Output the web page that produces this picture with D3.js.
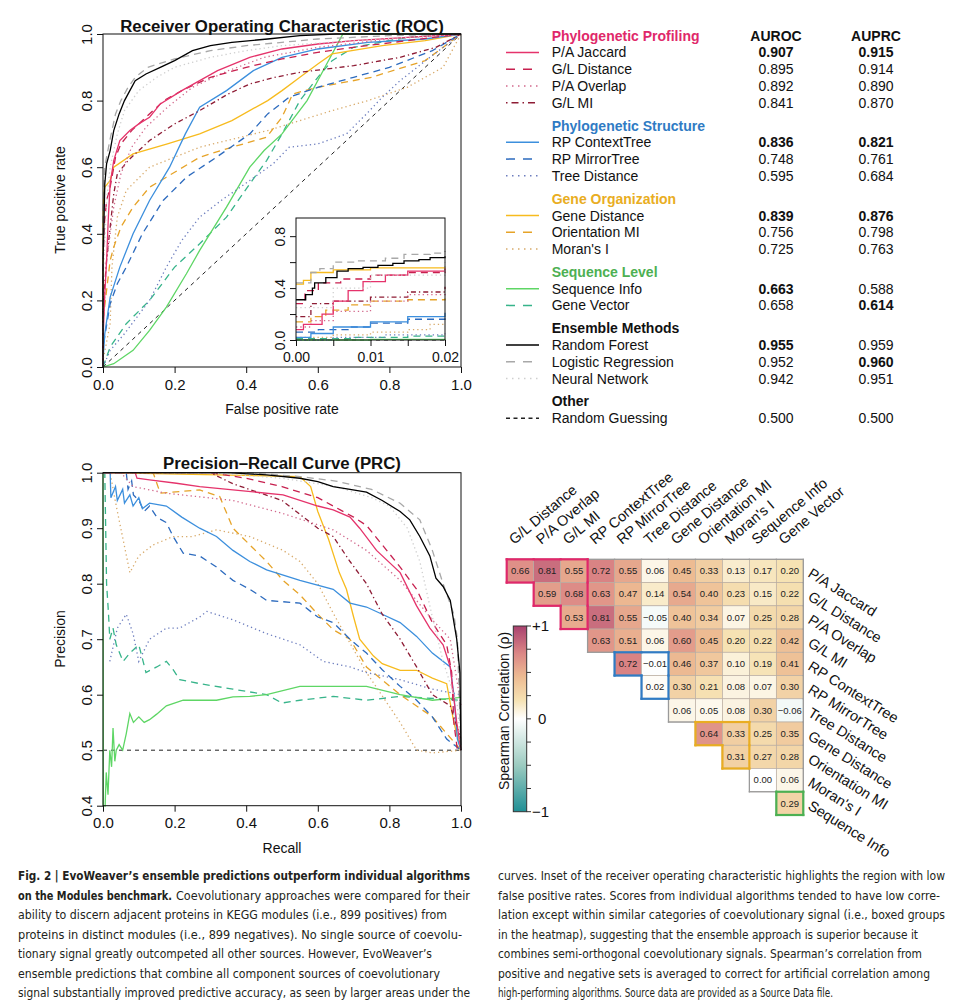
<!DOCTYPE html>
<html>
<head>
<meta charset="utf-8">
<script src="https://cdn.jsdelivr.net/npm/d3@7"></script>
<style>
  body { margin: 0; background: #fff; }
  svg text { font-family: "Liberation Sans", Arial, Helvetica, sans-serif; fill: #111; }
  .caption text { font-family: "Liberation Sans Narrow", "DejaVu Sans Condensed", "Liberation Sans", sans-serif; fill: #231f20; }
</style>
</head>
<body>
<svg width="958" height="1000"></svg>
<script>
var svg = d3.select("svg"),
  width = +svg.attr("width"),
  height = +svg.attr("height");

// ---------------- data ----------------
const methodNames = ["P/A Jaccard", "G/L Distance", "P/A Overlap", "G/L MI",
  "RP ContextTree", "RP MirrorTree", "Tree Distance",
  "Gene Distance", "Orientation MI", "Moran's I",
  "Sequence Info", "Gene Vector",
  "Random Forest", "Logistic Regression", "Neural Network",
  "Random Guessing"];
const groupNames = ["Phylogenetic Profiling", "Phylogenetic Structure", "Gene Organization",
  "Sequence Level", "Ensemble Methods", "Other"];
const methodGroup = [0, 0, 0, 0, 1, 1, 1, 2, 2, 2, 3, 3, 4, 4, 4, 5];
const aurocValues = [0.907, 0.895, 0.892, 0.841, 0.836, 0.748, 0.595, 0.839, 0.756, 0.725, 0.663, 0.658, 0.955, 0.952, 0.942, 0.500];
const auprcValues = [0.915, 0.914, 0.890, 0.870, 0.821, 0.761, 0.684, 0.876, 0.798, 0.763, 0.588, 0.614, 0.959, 0.960, 0.951, 0.500];

// ROC curves [FPR, TPR]
const rocPAJaccard = [[0,0],[0,0.08],[0.005,0.22],[0.01,0.32],[0.015,0.45],[0.02,0.55],[0.03,0.62],[0.047,0.68],[0.075,0.71],[0.1,0.73],[0.13,0.75],[0.16,0.79],[0.22,0.83],[0.27,0.86],[0.32,0.89],[0.41,0.93],[0.5,0.955],[0.6,0.97],[0.7,0.98],[0.85,0.99],[1,1]];
const rocGLDistance = [[0,0],[0,0.28],[0.003,0.42],[0.01,0.5],[0.02,0.54],[0.035,0.63],[0.05,0.67],[0.08,0.71],[0.12,0.75],[0.17,0.8],[0.22,0.83],[0.3,0.87],[0.4,0.9],[0.5,0.925],[0.6,0.945],[0.7,0.96],[0.85,0.98],[1,1]];
const rocPAOverlap = [[0,0],[0,0.12],[0.01,0.32],[0.02,0.4],[0.03,0.48],[0.05,0.58],[0.08,0.66],[0.12,0.72],[0.18,0.78],[0.25,0.84],[0.35,0.89],[0.45,0.93],[0.6,0.96],[0.8,0.985],[1,1]];
const rocGLMI = [[0,0],[0,0.18],[0.01,0.32],[0.02,0.42],[0.03,0.52],[0.04,0.58],[0.07,0.62],[0.1,0.65],[0.13,0.68],[0.2,0.73],[0.27,0.77],[0.35,0.82],[0.41,0.85],[0.48,0.87],[0.55,0.885],[0.7,0.905],[0.83,0.93],[0.93,0.96],[1,1]];
const rocRPContext = [[0,0],[0,0.02],[0.005,0.1],[0.02,0.21],[0.047,0.3],[0.084,0.4],[0.13,0.5],[0.186,0.6],[0.23,0.7],[0.27,0.78],[0.345,0.83],[0.42,0.89],[0.5,0.93],[0.6,0.955],[0.74,0.975],[0.9,0.985],[1,1]];
const rocRPMirror = [[0,0],[0,0.06],[0.02,0.19],[0.04,0.25],[0.065,0.3],[0.11,0.4],[0.168,0.5],[0.233,0.57],[0.317,0.63],[0.41,0.7],[0.46,0.76],[0.52,0.81],[0.6,0.84],[0.7,0.87],[0.8,0.9],[0.92,0.95],[1,1]];
const rocTreeDist = [[0,0],[0.02,0.05],[0.06,0.1],[0.13,0.2],[0.177,0.3],[0.22,0.38],[0.27,0.45],[0.33,0.5],[0.41,0.56],[0.475,0.61],[0.52,0.66],[0.6,0.67],[0.68,0.7],[0.736,0.76],[0.78,0.81],[0.83,0.86],[0.913,0.93],[1,1]];
const rocGeneDist = [[0,0],[0,0.43],[0.002,0.52],[0.005,0.54],[0.02,0.56],[0.03,0.6],[0.084,0.64],[0.18,0.67],[0.27,0.7],[0.36,0.74],[0.46,0.8],[0.5,0.83],[0.55,0.87],[0.6,0.91],[0.64,0.94],[0.78,0.965],[0.9,0.98],[1,1]];
const rocOrientMI = [[0,0],[0,0.14],[0.02,0.32],[0.03,0.36],[0.05,0.42],[0.084,0.48],[0.13,0.54],[0.177,0.57],[0.27,0.63],[0.36,0.66],[0.457,0.69],[0.5,0.75],[0.53,0.82],[0.6,0.84],[0.75,0.87],[0.9,0.92],[1,1]];
const rocMoransI = [[0,0],[0,0.02],[0.02,0.13],[0.025,0.3],[0.04,0.45],[0.065,0.53],[0.13,0.6],[0.27,0.66],[0.46,0.71],[0.64,0.77],[0.74,0.8],[0.85,0.84],[0.95,0.9],[1,1]];
const rocSeqInfo = [[0,0],[0.03,0.01],[0.084,0.05],[0.13,0.11],[0.177,0.18],[0.233,0.28],[0.27,0.35],[0.345,0.48],[0.41,0.6],[0.45,0.65],[0.5,0.7],[0.57,0.8],[0.62,0.9],[0.66,0.98],[0.67,1],[1,1]];
const rocGeneVector = [[0,0],[0.02,0.06],[0.065,0.13],[0.13,0.2],[0.2,0.3],[0.27,0.37],[0.345,0.45],[0.41,0.55],[0.457,0.62],[0.5,0.7],[0.55,0.8],[0.6,0.87],[0.64,0.92],[0.7,0.96],[0.85,0.99],[1,1]];
const rocRandForest = [[0,0],[0,0.31],[0.002,0.4],[0.005,0.55],[0.01,0.61],[0.02,0.65],[0.03,0.71],[0.045,0.76],[0.06,0.8],[0.075,0.83],[0.09,0.86],[0.12,0.88],[0.16,0.9],[0.2,0.92],[0.25,0.95],[0.3,0.965],[0.36,0.975],[0.46,0.985],[0.55,0.995],[0.65,1],[1,1]];
const rocLogReg = [[0,0],[0,0.44],[0.005,0.6],[0.01,0.63],[0.02,0.685],[0.035,0.76],[0.05,0.8],[0.07,0.84],[0.09,0.87],[0.125,0.9],[0.2,0.925],[0.3,0.95],[0.4,0.965],[0.5,0.975],[0.6,0.985],[0.8,0.995],[1,1]];
const rocNeuralNet = [[0,0],[0,0.25],[0.01,0.5],[0.02,0.6],[0.04,0.7],[0.06,0.77],[0.1,0.83],[0.15,0.87],[0.2,0.9],[0.3,0.93],[0.4,0.95],[0.5,0.965],[0.7,0.98],[1,1]];
const rocRandom = [[0,0],[1,1]];

// ROC inset, FPR 0 - 0.02 (step curves)
const insetPAJaccard = [[0,0.08],[0.001,0.12],[0.0035,0.2],[0.005,0.3],[0.007,0.38],[0.009,0.45],[0.012,0.5],[0.015,0.53],[0.02,0.55]];
const insetGLDistance = [[0,0.28],[0.0012,0.38],[0.003,0.44],[0.006,0.47],[0.01,0.5],[0.015,0.52],[0.02,0.53]];
const insetPAOverlap = [[0,0.1],[0.002,0.15],[0.005,0.22],[0.01,0.3],[0.015,0.35],[0.02,0.38]];
const insetGLMI = [[0,0.18],[0.002,0.28],[0.005,0.3],[0.01,0.33],[0.015,0.37],[0.02,0.41]];
const insetRPContext = [[0,0.02],[0.002,0.05],[0.005,0.1],[0.01,0.14],[0.015,0.18],[0.02,0.21]];
const insetRPMirror = [[0,0.06],[0.003,0.08],[0.007,0.1],[0.01,0.13],[0.015,0.16],[0.02,0.19]];
const insetTreeDist = [[0,0],[0.005,0.02],[0.012,0.04],[0.02,0.05]];
const insetGeneDist = [[0,0.43],[0.001,0.46],[0.002,0.52],[0.005,0.54],[0.01,0.555],[0.02,0.56]];
const insetOrientMI = [[0,0.14],[0.002,0.18],[0.004,0.23],[0.007,0.27],[0.01,0.3],[0.015,0.31],[0.02,0.32]];
const insetMoransI = [[0,0.02],[0.005,0.04],[0.01,0.06],[0.015,0.08],[0.018,0.12],[0.02,0.13]];
const insetSeqInfo = [[0,0],[0.01,0.005],[0.02,0.01]];
const insetGeneVector = [[0,0.01],[0.008,0.02],[0.015,0.03],[0.02,0.04]];
const insetRandForest = [[0,0.31],[0.0013,0.35],[0.0022,0.4],[0.0025,0.44],[0.004,0.48],[0.0055,0.53],[0.007,0.55],[0.009,0.56],[0.011,0.575],[0.013,0.59],[0.0145,0.61],[0.0165,0.62],[0.018,0.635],[0.02,0.645]];
const insetLogReg = [[0,0.44],[0.002,0.52],[0.0032,0.55],[0.005,0.6],[0.008,0.61],[0.012,0.63],[0.0145,0.66],[0.018,0.67],[0.02,0.685]];
const insetNeuralNet = [[0,0.25],[0.005,0.4],[0.01,0.5],[0.02,0.6]];
const insetRandom = [[0,0],[0.02,0.02]];

// PRC curves [recall, precision]
const prcPAJaccard = [[0,1],[0.09,1],[0.095,0.99],[0.13,0.987],[0.205,0.981],[0.27,0.975],[0.363,0.969],[0.503,0.96],[0.6,0.94],[0.643,0.933],[0.69,0.92],[0.717,0.9],[0.764,0.86],[0.83,0.82],[0.876,0.76],[0.913,0.72],[0.95,0.69],[0.97,0.65],[0.988,0.55],[1,0.5]];
const prcGLDistance = [[0,1],[0.3,1],[0.4,0.99],[0.5,0.975],[0.6,0.955],[0.643,0.94],[0.7,0.92],[0.736,0.905],[0.78,0.87],[0.83,0.83],[0.876,0.79],[0.92,0.73],[0.96,0.69],[0.974,0.64],[0.98,0.55],[0.99,0.5],[1,0.5]];
const prcPAOverlap = [[0,1],[0.05,1],[0.084,0.975],[0.177,0.963],[0.363,0.95],[0.5,0.927],[0.643,0.897],[0.736,0.86],[0.83,0.806],[0.92,0.735],[0.97,0.7],[1,0.58]];
const prcGLMI = [[0,1],[0.3,1],[0.363,0.98],[0.5,0.95],[0.6,0.9],[0.643,0.885],[0.69,0.84],[0.736,0.8],[0.78,0.745],[0.83,0.7],[0.876,0.65],[0.92,0.6],[0.97,0.58],[1,0.52]];
const prcRPContext = [[0,1],[0.02,1],[0.022,0.955],[0.035,0.975],[0.04,0.95],[0.055,0.97],[0.06,0.945],[0.075,0.96],[0.084,0.94],[0.1,0.955],[0.11,0.935],[0.13,0.945],[0.177,0.94],[0.22,0.92],[0.27,0.9],[0.317,0.885],[0.363,0.86],[0.41,0.84],[0.457,0.825],[0.55,0.806],[0.643,0.79],[0.69,0.765],[0.736,0.758],[0.78,0.745],[0.83,0.73],[0.876,0.705],[0.92,0.675],[0.97,0.65],[0.98,0.6],[0.99,0.52],[1,0.5]];
const prcRPMirror = [[0,1],[0.065,1],[0.07,0.97],[0.08,0.985],[0.085,0.96],[0.1,0.95],[0.115,0.93],[0.13,0.94],[0.15,0.92],[0.177,0.91],[0.196,0.885],[0.224,0.855],[0.27,0.85],[0.317,0.83],[0.363,0.806],[0.41,0.79],[0.457,0.77],[0.55,0.765],[0.6,0.74],[0.643,0.73],[0.69,0.7],[0.736,0.675],[0.78,0.645],[0.83,0.615],[0.876,0.59],[0.92,0.56],[0.96,0.52],[1,0.5]];
const prcTreeDist = [[0.019,0.66],[0.04,0.72],[0.065,0.745],[0.084,0.71],[0.1,0.66],[0.13,0.7],[0.177,0.72],[0.214,0.72],[0.27,0.74],[0.29,0.75],[0.363,0.735],[0.457,0.71],[0.55,0.69],[0.615,0.66],[0.69,0.65],[0.736,0.64],[0.83,0.627],[0.92,0.61],[1,0.6]];
const prcGeneDist = [[0,1],[0.55,0.993],[0.58,0.975],[0.6,0.93],[0.63,0.88],[0.66,0.82],[0.68,0.79],[0.7,0.74],[0.717,0.7],[0.755,0.67],[0.78,0.656],[0.83,0.644],[0.876,0.644],[0.92,0.63],[0.96,0.62],[0.98,0.55],[1,0.5]];
const prcOrientMI = [[0,1],[0.14,1],[0.16,0.963],[0.27,0.969],[0.326,0.957],[0.363,0.9],[0.41,0.87],[0.457,0.84],[0.503,0.806],[0.55,0.78],[0.6,0.745],[0.643,0.717],[0.69,0.7],[0.736,0.65],[0.83,0.6],[0.92,0.56],[1,0.5]];
const prcMoransI = [[0,1],[0.02,1],[0.037,0.94],[0.075,0.82],[0.1,0.85],[0.14,0.87],[0.196,0.885],[0.25,0.885],[0.317,0.897],[0.41,0.885],[0.503,0.86],[0.55,0.84],[0.6,0.8],[0.643,0.747],[0.736,0.64],[0.83,0.55],[0.876,0.5],[0.92,0.495],[1,0.5]];
const prcSeqInfo = [[0,1],[0.001,0.4],[0.005,0.38],[0.009,0.46],[0.014,0.42],[0.019,0.5],[0.024,0.47],[0.028,0.54],[0.033,0.48],[0.037,0.5],[0.045,0.51],[0.055,0.5],[0.065,0.53],[0.075,0.566],[0.085,0.55],[0.1,0.56],[0.115,0.55],[0.13,0.555],[0.15,0.565],[0.177,0.58],[0.224,0.59],[0.317,0.59],[0.363,0.596],[0.41,0.597],[0.457,0.6],[0.55,0.615],[0.643,0.615],[0.736,0.615],[0.83,0.6],[0.92,0.59],[1,0.595]];
const prcGeneVector = [[0,1],[0.005,1],[0.01,0.8],[0.015,0.75],[0.019,0.7],[0.028,0.72],[0.037,0.69],[0.056,0.66],[0.075,0.675],[0.1,0.69],[0.12,0.64],[0.15,0.65],[0.177,0.66],[0.196,0.645],[0.214,0.627],[0.27,0.62],[0.363,0.61],[0.457,0.6],[0.5,0.585],[0.55,0.59],[0.643,0.597],[0.736,0.59],[0.83,0.597],[1,0.59]];
const prcRandForest = [[0,1],[0.35,1],[0.457,0.996],[0.55,0.99],[0.6,0.984],[0.643,0.975],[0.69,0.97],[0.736,0.965],[0.78,0.95],[0.83,0.93],[0.857,0.915],[0.885,0.885],[0.913,0.85],[0.93,0.81],[0.95,0.795],[0.97,0.77],[0.988,0.7],[0.997,0.64],[1,0.5]];
const prcLogReg = [[0,1],[0.4,1],[0.55,0.993],[0.65,0.985],[0.75,0.97],[0.83,0.945],[0.885,0.915],[0.92,0.86],[0.95,0.8],[0.98,0.745],[0.99,0.7],[1,0.5]];
const prcNeuralNet = [[0,1],[0.3,1],[0.5,0.99],[0.65,0.975],[0.75,0.955],[0.8,0.94],[0.85,0.9],[0.885,0.84],[0.92,0.74],[0.95,0.66],[0.99,0.58],[1,0.5]];
const prcRandom = [[0,0.5],[1,0.5]];

// Spearman correlation heatmap (upper triangle, row i starts at column i)
const heatRows = methodNames.slice(0, 11);
const heatCols = methodNames.slice(1, 12);
const spearman = [
  [0.66, 0.81, 0.55, 0.72, 0.55, 0.06, 0.45, 0.33, 0.13, 0.17, 0.20],
  [0.59, 0.68, 0.63, 0.47, 0.14, 0.54, 0.40, 0.23, 0.15, 0.22],
  [0.53, 0.81, 0.55, -0.05, 0.40, 0.34, 0.07, 0.25, 0.28],
  [0.63, 0.51, 0.06, 0.60, 0.45, 0.20, 0.22, 0.42],
  [0.72, -0.01, 0.46, 0.37, 0.10, 0.19, 0.41],
  [0.02, 0.30, 0.21, 0.08, 0.07, 0.30],
  [0.06, 0.05, 0.08, 0.30, -0.06],
  [0.64, 0.33, 0.25, 0.35],
  [0.31, 0.27, 0.28],
  [0.00, 0.06],
  [0.29]
];

// caption pieces: [text, bold]
const captionLeft = [
  [["Fig. 2 | EvoWeaver\u2019s ensemble predictions outperform individual algorithms", true]],
  [["on the Modules benchmark.", true], ["Coevolutionary approaches were compared for their", false]],
  [["ability to discern adjacent proteins in KEGG modules (i.e., 899 positives) from", false]],
  [["proteins in distinct modules (i.e., 899 negatives). No single source of coevolu-", false]],
  [["tionary signal greatly outcompeted all other sources. However, EvoWeaver\u2019s", false]],
  [["ensemble predictions that combine all component sources of coevolutionary", false]],
  [["signal substantially improved predictive accuracy, as seen by larger areas under the", false]]
];
const captionRight = [
  [["curves. Inset of the receiver operating characteristic highlights the region with low", false]],
  [["false positive rates. Scores from individual algorithms tended to have low corre-", false]],
  [["lation except within similar categories of coevolutionary signal (i.e., boxed groups", false]],
  [["in the heatmap), suggesting that the ensemble approach is superior because it", false]],
  [["combines semi-orthogonal coevolutionary signals. Spearman\u2019s correlation from", false]],
  [["positive and negative sets is averaged to correct for artificial correlation among", false]],
  [["high-performing algorithms. Source data are provided as a Source Data file.", false]]
];

// ---------------- styles ----------------
const groupColors = ["#e0286a", "#2f7bc4", "#e9ad22", "#4db052", "#111", "#111"];
const methodColors = ["#e5336b", "#c7204f", "#d2688c", "#8e1c35",
  "#3c8fdd", "#2d6bbe", "#6c7dbe",
  "#f7bb1e", "#e6a328", "#d8aa6a",
  "#5ed665", "#37b48a",
  "#000000", "#a8a8a8", "#cfcfcf", "#222222"];
const dashStyles = { solid: null, dashed: "9,8", dotted: "1.5,4.5", dotdash: "1.5,4,7,4", short: "4,3.5" };
const methodDash = ["solid", "dashed", "dotted", "dotdash",
  "solid", "dashed", "dotted",
  "solid", "dashed", "dotted",
  "solid", "dashed",
  "solid", "dashed", "dotted", "short"];
const curveDash = { solid: null, dashed: "7,5", dotted: "1.3,3", dotdash: "1.3,3,5,3", short: "4,4" };

const rocData = [rocPAJaccard, rocGLDistance, rocPAOverlap, rocGLMI, rocRPContext, rocRPMirror, rocTreeDist,
  rocGeneDist, rocOrientMI, rocMoransI, rocSeqInfo, rocGeneVector, rocRandForest, rocLogReg, rocNeuralNet, rocRandom];
const insetData = [insetPAJaccard, insetGLDistance, insetPAOverlap, insetGLMI, insetRPContext, insetRPMirror, insetTreeDist,
  insetGeneDist, insetOrientMI, insetMoransI, insetSeqInfo, insetGeneVector, insetRandForest, insetLogReg, insetNeuralNet, insetRandom];
const prcData = [prcPAJaccard, prcGLDistance, prcPAOverlap, prcGLMI, prcRPContext, prcRPMirror, prcTreeDist,
  prcGeneDist, prcOrientMI, prcMoransI, prcSeqInfo, prcGeneVector, prcRandForest, prcLogReg, prcNeuralNet, prcRandom];

// drawing order: weakest groups first, ensembles on top
const drawOrder = [15, 11, 10, 9, 8, 7, 6, 5, 4, 3, 2, 1, 0, 14, 13, 12];

// ---------------- helpers ----------------
function drawCurves(g, data, x, y, stepped) {
  const line = d3.line().x(d => x(d[0])).y(d => y(d[1]));
  if (stepped) line.curve(d3.curveStepAfter);
  drawOrder.forEach(i => {
    g.append("path")
      .attr("d", line(data[i]))
      .attr("fill", "none")
      .attr("stroke", methodColors[i])
      .attr("stroke-width", i == 15 ? 1 : 1.3)
      .attr("stroke-dasharray", curveDash[methodDash[i]]);
  });
}

function rAxes(g, x, y, xTicks, yTicks, fmtX, fmtY, fs, labelledX, labelledY) {
  const [x0, x1] = x.range(), [y0, y1] = y.range();
  const xa = g.append("g").attr("transform", `translate(0,${y0})`)
    .call(d3.axisBottom(x).tickValues(xTicks).tickSize(6).tickPadding(6)
      .tickFormat(d => labelledX(d) ? fmtX(d) : ""));
  const ya = g.append("g").attr("transform", `translate(${x0},0)`)
    .call(d3.axisLeft(y).tickValues(yTicks).tickSize(6)
      .tickFormat(d => labelledY(d) ? fmtY(d) : ""));
  [xa, ya].forEach(a => {
    a.select(".domain").remove();
    a.selectAll("line").attr("stroke", "#111");
    a.selectAll("text").style("font-size", fs + "px")
      .style("font-family", '"Liberation Sans", Arial, sans-serif').attr("fill", "#111");
  });
  ya.selectAll("text")
    .attr("transform", "rotate(-90)")
    .attr("x", 0).attr("y", -11).attr("dy", 0)
    .attr("text-anchor", "middle");
  g.append("rect")
    .attr("x", x0).attr("y", y1)
    .attr("width", x1 - x0).attr("height", y0 - y1)
    .attr("fill", "none").attr("stroke", "#111").attr("stroke-width", 1);
}

let clipCount = 0;
function clipRect(x, y) {
  const id = "clip" + (clipCount++);
  const [x0, x1] = x.range(), [y0, y1] = y.range();
  svg.append("clipPath").attr("id", id).append("rect")
    .attr("x", x0 - 1).attr("y", y1 - 1).attr("width", x1 - x0 + 2).attr("height", y0 - y1 + 2);
  return "url(#" + id + ")";
}

const fmt1 = d3.format(".1f");
const fmt2 = d3.format(".2f");
const all = () => true;

// ---------------- ROC ----------------
const rocX = d3.scaleLinear().domain([0, 1]).range([103, 461]);
const rocY = d3.scaleLinear().domain([0, 1]).range([367, 34]);
const rocG = svg.append("g");
drawCurves(rocG.append("g").attr("clip-path", clipRect(rocX, rocY)), rocData, rocX, rocY, false);
rAxes(rocG, rocX, rocY, d3.range(0, 1.01, 0.2), d3.range(0, 1.01, 0.2), fmt1, fmt1, 15, all, all);

rocG.append("text").attr("x", 282).attr("y", 32).attr("text-anchor", "middle")
  .style("font-size", "16.8px").style("font-weight", "bold")
  .text("Receiver Operating Characteristic (ROC)");
rocG.append("text").attr("x", 282).attr("y", 414).attr("text-anchor", "middle")
  .style("font-size", "14px").text("False positive rate");
rocG.append("text").attr("transform", "translate(65,200) rotate(-90)").attr("text-anchor", "middle")
  .style("font-size", "14px").text("True positive rate");

// inset
const inX = d3.scaleLinear().domain([0, 0.02]).range([296, 445]);
const inY = d3.scaleLinear().domain([0, 0.94]).range([340, 218]);
const inG = svg.append("g");
inG.append("rect").attr("x", 296).attr("y", 218).attr("width", 149).attr("height", 122).attr("fill", "#fff");
drawCurves(inG.append("g").attr("clip-path", clipRect(inX, inY)), insetData, inX, inY, true);
rAxes(inG, inX, inY, [0, 0.005, 0.01, 0.015, 0.02], [0, 0.2, 0.4, 0.6, 0.8], fmt2, fmt1, 14,
  d => [0, 0.01, 0.02].some(v => Math.abs(v - d) < 1e-9),
  d => [0, 0.4, 0.8].some(v => Math.abs(v - d) < 1e-9));

// ---------------- PRC ----------------
const prcX = d3.scaleLinear().domain([0, 1]).range([103, 461]);
const prcY = d3.scaleLinear().domain([0.4, 1]).range([805.7, 472.7]);
const prcG = svg.append("g");
drawCurves(prcG.append("g").attr("clip-path", clipRect(prcX, prcY)), prcData, prcX, prcY, false);
rAxes(prcG, prcX, prcY, d3.range(0, 1.01, 0.2), [0.4, 0.5, 0.6, 0.7, 0.8, 0.9, 1.0], fmt1, fmt1, 15, all, all);

prcG.append("text").attr("x", 282).attr("y", 469).attr("text-anchor", "middle")
  .style("font-size", "16.8px").style("font-weight", "bold")
  .text("Precision\u2013Recall Curve (PRC)");
prcG.append("text").attr("x", 282).attr("y", 853).attr("text-anchor", "middle")
  .style("font-size", "14px").text("Recall");
prcG.append("text").attr("transform", "translate(65,639) rotate(-90)").attr("text-anchor", "middle")
  .style("font-size", "14px").text("Precision");

// ---------------- legend table ----------------
const leg = svg.append("g");
const nameX = 551.7, aurocX = 776, auprcX = 876;
let cy = 35.7;
groupNames.forEach((gname, gi) => {
  if (gi > 0) cy += 22.9;
  leg.append("text").attr("x", nameX).attr("y", cy + 5)
    .style("font-size", "14px").style("font-weight", "bold")
    .style("fill", groupColors[gi]).text(gname);
  if (gi == 0) {
    leg.append("text").attr("x", aurocX).attr("y", cy + 5).attr("text-anchor", "middle")
      .style("font-size", "14px").style("font-weight", "bold").text("AUROC");
    leg.append("text").attr("x", auprcX).attr("y", cy + 5).attr("text-anchor", "middle")
      .style("font-size", "14px").style("font-weight", "bold").text("AUPRC");
  }
  const members = d3.range(methodNames.length).filter(i => methodGroup[i] == gi);
  const bestRoc = d3.max(members, i => aurocValues[i]);
  const bestPrc = d3.max(members, i => auprcValues[i]);
  members.forEach(i => {
    cy += 16.75;
    leg.append("line").attr("x1", 506).attr("x2", 539).attr("y1", cy).attr("y2", cy)
      .attr("stroke", methodColors[i]).attr("stroke-width", 1.5)
      .attr("stroke-dasharray", dashStyles[methodDash[i]]);
    leg.append("text").attr("x", nameX).attr("y", cy + 5).style("font-size", "14px").text(methodNames[i]);
    const other = gi == 5;
    leg.append("text").attr("x", aurocX).attr("y", cy + 5).attr("text-anchor", "middle")
      .style("font-size", "14px")
      .style("font-weight", (!other && aurocValues[i] == bestRoc) ? "bold" : "normal")
      .text(aurocValues[i].toFixed(3));
    leg.append("text").attr("x", auprcX).attr("y", cy + 5).attr("text-anchor", "middle")
      .style("font-size", "14px")
      .style("font-weight", (!other && auprcValues[i] == bestPrc) ? "bold" : "normal")
      .text(auprcValues[i].toFixed(3));
  });
});

// ---------------- heatmap ----------------
const hx = d3.scaleBand().domain(heatCols).range([506.7, 803.3]);
const hy = d3.scaleBand().domain(heatRows).range([559.3, 815]);
const heatColor = d3.scaleLinear()
  .domain([-1, -0.5, 0, 0.2, 0.45, 0.7, 1])
  .range(["#1f8f95", "#9ccbc0", "#ffffff", "#f6e2b3", "#edbb92", "#dc8886", "#a9416f"]);

const cells = [];
spearman.forEach((row, r) => row.forEach((v, k) => {
  const c = r + k;
  cells.push({ r: r, c: c, v: v, group: methodGroup[r] == methodGroup[c + 1] ? methodGroup[r] : -1 });
}));

const hm = svg.append("g");
hm.selectAll("rect.cell").data(cells).enter().append("rect")
  .attr("class", "cell")
  .attr("x", d => hx(heatCols[d.c])).attr("y", d => hy(heatRows[d.r]))
  .attr("width", hx.bandwidth()).attr("height", hy.bandwidth())
  .attr("fill", d => heatColor(d.v))
  .attr("stroke", "#b9ada2").attr("stroke-width", 0.7);
hm.selectAll("text.val").data(cells).enter().append("text")
  .attr("x", d => hx(heatCols[d.c]) + hx.bandwidth() / 2)
  .attr("y", d => hy(heatRows[d.r]) + hy.bandwidth() / 2 + 3.3)
  .attr("text-anchor", "middle")
  .style("font-size", "9.5px").style("fill", "#222")
  .text(d => d.v < 0 ? "\u2212" + Math.abs(d.v).toFixed(2) : d.v.toFixed(2));

function outline(set, color, w) {
  const key = d => d.r + "," + d.c;
  const has = new Set(set.map(key));
  const segs = [];
  set.forEach(d => {
    const x0 = hx(heatCols[d.c]), x1 = x0 + hx.bandwidth();
    const y0 = hy(heatRows[d.r]), y1 = y0 + hy.bandwidth();
    if (!has.has((d.r - 1) + "," + d.c)) segs.push([x0, y0, x1, y0]);
    if (!has.has((d.r + 1) + "," + d.c)) segs.push([x0, y1, x1, y1]);
    if (!has.has(d.r + "," + (d.c - 1))) segs.push([x0, y0, x0, y1]);
    if (!has.has(d.r + "," + (d.c + 1))) segs.push([x1, y0, x1, y1]);
  });
  hm.append("g").selectAll("line").data(segs).enter().append("line")
    .attr("x1", s => s[0]).attr("y1", s => s[1]).attr("x2", s => s[2]).attr("y2", s => s[3])
    .attr("stroke", color).attr("stroke-width", w).attr("stroke-linecap", "square");
}
outline(cells, "#9a9a9a", 1.3);
[0, 1, 2, 3].forEach(gi => outline(cells.filter(d => d.group == gi), groupColors[gi], 2.2));

// column labels
hm.selectAll("text.col").data(heatCols).enter().append("text")
  .attr("transform", d => `translate(${hx(d) + hx.bandwidth() / 2 - 6},545) rotate(-40)`)
  .style("font-size", "14.5px").text(d => d);
// row labels
hm.selectAll("text.row").data(heatRows).enter().append("text")
  .attr("transform", d => `translate(807,${hy(d) + hy.bandwidth() / 2 + 5}) rotate(32)`)
  .style("font-size", "14.5px").text(d => d);

// colour bar
const cbY = d3.scaleLinear().domain([-1, 1]).range([811.7, 626]);
const grad = svg.append("defs").append("linearGradient").attr("id", "cbgrad")
  .attr("x1", 0).attr("x2", 0).attr("y1", 1).attr("y2", 0);
d3.range(-1, 1.001, 0.05).forEach(v => {
  grad.append("stop").attr("offset", ((v + 1) / 2 * 100) + "%").attr("stop-color", heatColor(v));
});
hm.append("rect").attr("x", 513.3).attr("y", 626).attr("width", 13.4).attr("height", 185.7)
  .attr("fill", "url(#cbgrad)").attr("stroke", "#333").attr("stroke-width", 1);
const cbTicks = d3.range(-1, 1.001, 0.25);
hm.selectAll("line.cbt").data(cbTicks).enter().append("line")
  .attr("x1", 526.7).attr("x2", 531).attr("y1", d => cbY(d)).attr("y2", d => cbY(d))
  .attr("stroke", "#333").attr("stroke-width", 1);
hm.selectAll("text.cbl").data([1, 0, -1]).enter().append("text")
  .attr("x", d => d == 0 ? 538 : 532).attr("y", d => cbY(d) + 5)
  .style("font-size", "15px")
  .text(d => d == 1 ? "+1" : d == 0 ? "0" : "\u22121");
hm.append("text").attr("transform", "translate(509,711) rotate(-90)").attr("text-anchor", "middle")
  .style("font-size", "14px").text("Spearman Correlation (\u03c1)");

// ---------------- caption ----------------
const capG = svg.append("g").attr("class", "caption");
// start/end x for every piece of every line
const leftSpans = [[[18, 470]], [[18, 172], [176, 470]], [[18, 447]], [[18, 462]], [[18, 432]], [[18, 440]], [[18, 470]]];
const rightSpans = [[[498, 945]], [[498, 940]], [[498, 945]], [[498, 918]], [[498, 922]], [[498, 930]], [[498, 833]]];
function captionCol(lines, spans) {
  lines.forEach((parts, li) => {
    parts.forEach((p, pi) => {
      const [xa, xb] = spans[li][pi];
      const t = capG.append("text").attr("x", xa).attr("y", 880 + li * 19.5)
        .style("font-size", "13.5px")
        .style("font-weight", p[1] ? "bold" : "normal")
        .text(p[0]);
      // shrink the font if the natural width is too wide, then fit exactly
      const w = t.node().getComputedTextLength();
      if (w > (xb - xa)) t.style("font-size", Math.max(12, 13.5 * (xb - xa) / w) + "px");
      t.attr("textLength", xb - xa).attr("lengthAdjust", "spacingAndGlyphs");
    });
  });
}
captionCol(captionLeft, leftSpans);
captionCol(captionRight, rightSpans);
</script>
</body>
</html>
